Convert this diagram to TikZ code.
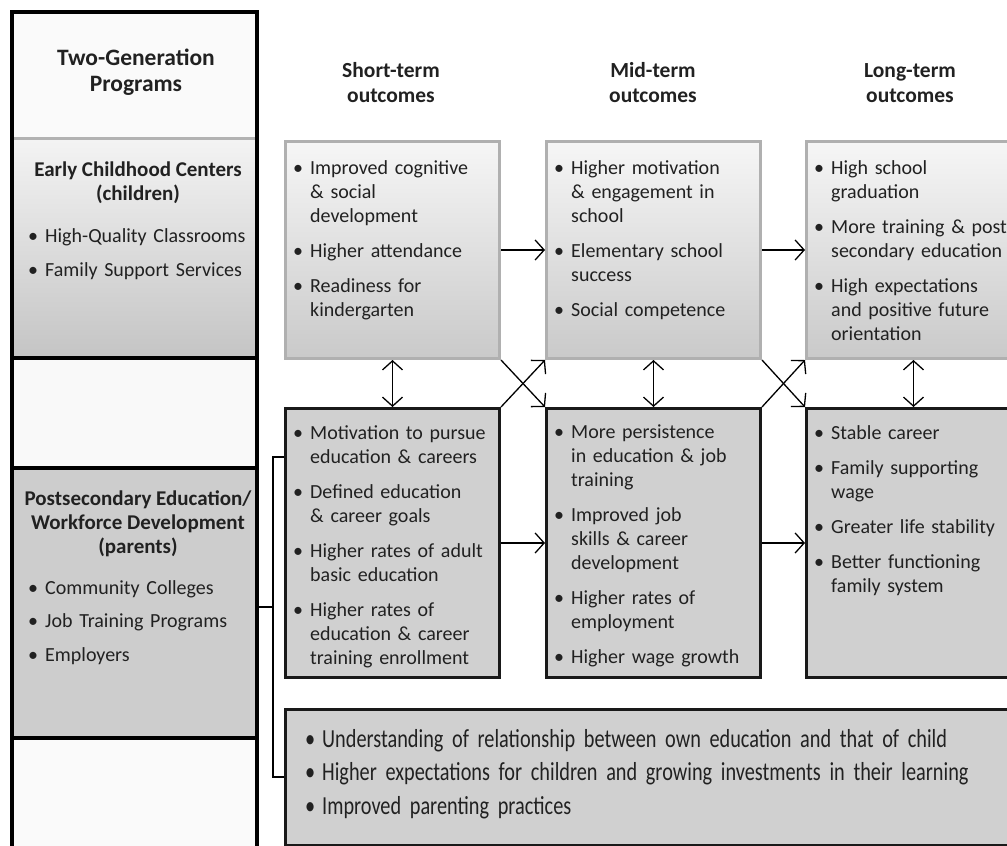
\documentclass[tikz,border=0pt]{standalone}
\usepackage{fontspec}
\setmainfont{Carlito}
\newfontfamily\tallfont[FakeStretch=0.78]{Carlito}
\usetikzlibrary{arrows.meta,positioning}

\newlength\itemgap
\setlength\itemgap{11pt}
\newcommand\bul[1]{\hangindent=17pt\hangafter=1\noindent\hbox to 17pt{\textbullet\hfil}#1\par\parskip=\itemgap}

\tikzset{
  ink/.style={text=black!87},
  head/.style={ink, font=\bfseries\fontsize{21}{24}\selectfont, align=center, inner sep=0pt},
  txt/.style={ink, anchor=north west, text width=#1, align=left, inner sep=0pt,
    font=\fontsize{20}{24}\selectfont},
  upbox/.style={draw=gray!62, line width=3pt, top color=gray!7, bottom color=gray!42,
    minimum width=214pt, minimum height=217pt, anchor=north west, inner sep=0pt},
  lowbox/.style={draw=black!90, line width=3pt, fill=gray!37,
    minimum width=214pt, minimum height=269pt, anchor=north west, inner sep=0pt},
  part/.style={minimum width=245pt, anchor=north west, inner sep=0pt},
  link/.style={line width=1.3pt, -{Straight Barb[length=9pt,width=20pt]}},
  both/.style={line width=1.3pt, {Straight Barb[length=9pt,width=20pt]}-{Straight Barb[length=9pt,width=20pt]}},
}

\begin{document}
\begin{tikzpicture}[x=1pt, y=-1pt]
    \useasboundingbox (0,0) rectangle (1007,846);
    \clip (0,0) rectangle (1007,846);
    % left column, top to bottom
    \node[part, minimum height=126pt, fill=gray!4] (lhead) at (12,12) {};
    \node[part, minimum height=220pt, top color=gray!9, bottom color=gray!46] (lkid) at (12,138) {};
    \node[part, minimum height=110pt, fill=gray!5] (lgap) at (12,358) {};
    \node[part, minimum height=270pt, fill=gray!39] (lpar) at (12,468) {};
    \node[part, minimum height=130pt, fill=gray!4] (lfoot) at (12,738) {};
    \draw[gray!60, line width=3pt] (lkid.north west) -- (lkid.north east);
    \draw[line width=4pt] (lkid.south west) -- (lkid.south east);
    \draw[line width=4pt] (lpar.north west) -- (lpar.north east);
    \draw[line width=4pt] (lpar.south west) -- (lpar.south east);
    \draw[line width=4pt] (lfoot.south west) -- (lhead.north west) -- (lhead.north east) -- (lfoot.south east);

    \node[head, font=\bfseries\fontsize{23.5}{26}\selectfont] (progs) at (136,72) {Two-Generation\\Programs};
    \node[head] (kidhd) at (138,183) {Early Childhood Centers\\(children)};
    \node[txt=225pt] (kidls) at (28,228) {\setlength\itemgap{10pt}\bul{High-Quality Classrooms}\bul{Family Support Services}};
    \node[head] (parhd) at (138,524) {Postsecondary Education/\\Workforce Development\\(parents)};
    \node[txt=225pt] (parls) at (28,580) {\setlength\itemgap{9.5pt}\bul{Community Colleges}\bul{Job Training Programs}\bul{Employers}};

    % column titles
    \foreach \x/\t in {391/Short-term, 653/Mid-term, 910/Long-term}
        \node[head, font=\bfseries\fontsize{21.5}{25}\selectfont] (hd-\t) at (\x,83) {\t\\outcomes};

    % outcome boxes
    \node[upbox] (a1) at (284,140) {};
    \node[upbox] (a2) at (545,140) {};
    \node[upbox] (a3) at (805,140) {};
    \node[lowbox] (b1) at (284,407) {};
    \node[lowbox] (b2) at (545,407) {};
    \node[lowbox] (b3) at (805,407) {};
    \node[draw=black!90, line width=3pt, fill=gray!37, minimum width=740pt, minimum height=136pt,
        anchor=north west, inner sep=0pt] (w) at (284,708) {};

    \node[txt=200pt] (a1t) at ([xshift=9pt,yshift=-20pt]a1.north west)
        {\bul{Improved cognitive\newline \& social\newline development}\bul{Higher attendance}\bul{Readiness for\newline kindergarten}};
    \node[txt=200pt] (a2t) at ([xshift=9pt,yshift=-20pt]a2.north west)
        {\bul{Higher motivation\newline \& engagement in\newline school}\bul{Elementary school\newline success}\bul{Social competence}};
    \node[txt=220pt] (a3t) at ([xshift=9pt,yshift=-20pt]a3.north west)
        {\bul{High school\newline graduation}\bul{More training \& post-\newline secondary education}\bul{High expectations\newline and positive future\newline orientation}};
    \node[txt=200pt] (b1t) at ([xshift=9pt,yshift=-18pt]b1.north west)
        {\bul{Motivation to pursue\newline education \& careers}\bul{Defined education\newline \& career goals}\bul{Higher rates of adult\newline basic education}\bul{Higher rates of\newline education \& career\newline training enrollment}};
    \node[txt=200pt] (b2t) at ([xshift=9pt,yshift=-18pt]b2.north west)
        {\bul{More persistence\newline in education \& job\newline training}\bul{Improved job\newline skills \& career\newline development}\bul{Higher rates of\newline employment}\bul{Higher wage growth}};
    \node[txt=220pt] (b3t) at ([xshift=9pt,yshift=-18pt]b3.north west)
        {\bul{Stable career}\bul{Family supporting\newline wage}\bul{Greater life stability}\bul{Better functioning\newline family system}};
    \node[ink, anchor=north west, text width=700pt, align=left, inner sep=0pt,
        font=\tallfont\fontsize{26}{33.5}\selectfont] (wt) at ([xshift=21pt,yshift=-21pt]w.north west)
        {\setlength\itemgap{0pt}\bul{Understanding of relationship between own education and that of child}%
         \bul{Higher expectations for children and growing investments in their learning}%
         \bul{Improved parenting practices}};

    % arrows between the columns
    \foreach \i/\j in {1/2, 2/3} {
        \draw[link] (a\i) -- (a\j);
        \draw[link] (b\i) -- (b\j);
        \draw[link] (a\i.south east) -- (b\j.north west);
        \draw[link] (b\i.north east) -- (a\j.south west);
    }
    \foreach \i in {1,2,3}
        \draw[both] (a\i) -- (b\i);

    % bracket from the parents box
    \coordinate (brtop) at (273,457);
    \coordinate (brmid) at (273,607);
    \coordinate (brbot) at (273,777);
    \draw[line width=1.5pt] (b1.west |- brtop) -- (brtop) -- (brbot) -- (w.west |- brbot);
    \draw[line width=1.5pt] (lpar.east |- brmid) -- (brmid);
\end{tikzpicture}
\end{document}
